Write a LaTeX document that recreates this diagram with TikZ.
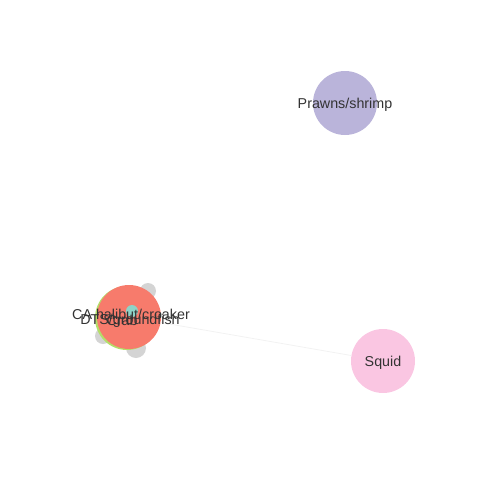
\documentclass[tikz,border=0pt]{standalone}
\usepackage{fontspec}
\setmainfont{Liberation Sans}
\usepackage{tikz}
\usetikzlibrary{positioning}
\definecolor{gear}{HTML}{F77B6C}
\definecolor{shrimp}{HTML}{BAB4DA}
\definecolor{squidpink}{HTML}{FAC6E2}
\definecolor{lime}{HTML}{B3DE69}
\definecolor{teal3}{HTML}{8DD3C7}
\definecolor{grey3}{HTML}{D4D4D4}
\definecolor{ink}{HTML}{333333}
\tikzstyle{fishery} = [circle, inner sep=0pt, draw=none]
\tikzstyle{tag} = [text=ink, font=\fontsize{14.3}{16}\selectfont, inner sep=0pt, yshift=-1.5pt]
\tikzstyle{link} = [draw=black!5, line width=0.8pt]
\begin{document}
\begin{tikzpicture}[x=1pt,y=-1pt]
					\useasboundingbox (0,0) rectangle (480,480);
					\node[fishery, fill=grey3, minimum size=16pt] (g1) at (148,291) {};
					\node[fishery, fill=grey3, minimum size=16pt] (g2) at (103,336) {};
					\node[fishery, fill=grey3, minimum size=20pt] (g3) at (136,348) {};
					\node[fishery, fill=lime, minimum size=64pt] (dts) at (127,318) {};
					\node[fishery, fill=gear, minimum size=64pt] (crab) at (129,317) {};
					\node[fishery, fill=teal3, minimum size=12pt] (halibut) at (132,311) {};
					\node[fishery, fill=shrimp, minimum size=64pt] (prawns) at (345,103) {};
					\node[fishery, fill=squidpink, minimum size=64pt] (squid) at (383,361) {};
					\draw[link] (crab) -- (squid);
					\node[tag] at (131,313) {CA halibut/croaker};
					\node[tag] at (130,319) {DTS/groundfish};
					\node[tag] at (122,319) {Crab};
					\node[tag] at (prawns) {Prawns/shrimp};
					\node[tag] at (squid) {Squid};
\end{tikzpicture}
\end{document}
